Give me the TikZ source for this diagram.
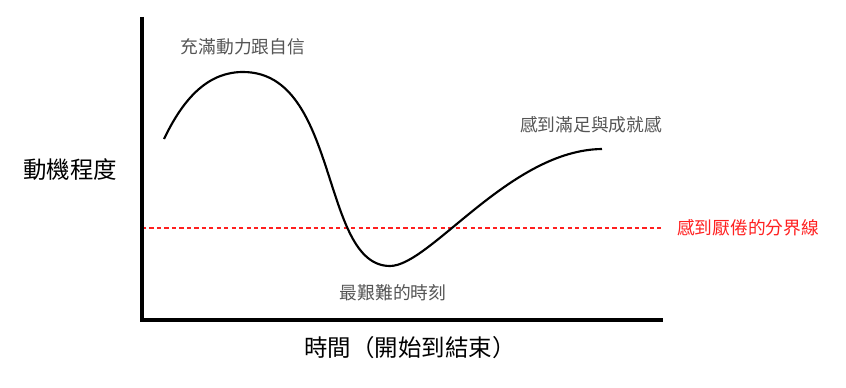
\documentclass[tikz,border=0pt]{standalone}
\usepackage{fontspec}
\setmainfont{Noto Sans CJK TC}
\definecolor{lbl}{HTML}{555555}
\definecolor{lim}{HTML}{FF2020}
\begin{document}
\begin{tikzpicture}[x=0.75pt,y=-0.75pt,
  axis/.style={line width=2.6pt},
  curve/.style={line width=1.6pt},
  limit/.style={draw=lim,line width=1.3pt,dash pattern=on 3.2pt off 2.4pt},
  lab/.style={text=lbl,font=\fontsize{13.3pt}{15pt}\selectfont,inner sep=0pt},
  big/.style={text=black,font=\fontsize{17.6pt}{19pt}\selectfont,inner sep=0pt}]
\useasboundingbox (0,0) rectangle (846,388);
\coordinate (top) at (142,17);
\coordinate (org) at (142,320);
\coordinate (xend) at (663,320);
\coordinate (l0) at (142,228);
\coordinate (l1) at (662,228);
\draw[limit] (l0) -- (l1);
\draw[axis] (top) -- (org) -- (xend);
\coordinate (s) at (164,139);
\coordinate (peak) at (243,72);
\coordinate (low) at (390,266);
\coordinate (e) at (602,149);
\draw[curve] (s) .. controls (185,95) and (210,72) .. (peak)
  .. controls (340,72) and (320,266) .. (low)
  .. controls (430,266) and (510,150) .. (e);
\node[lab] (t1) at (243,47) {充滿動力跟自信};
\node[lab] (t2) at (591,125) {感到滿足與成就感};
\node[lab] (t3) at (393,293) {最艱難的時刻};
\node[lab,text=lim] (t4) at (748,228) {感到厭倦的分界線};
\node[big] (ya) at (70,170) {動機程度};
\node[big] (xa) at (410,348) {時間（開始到結束）};
\end{tikzpicture}
\end{document}
